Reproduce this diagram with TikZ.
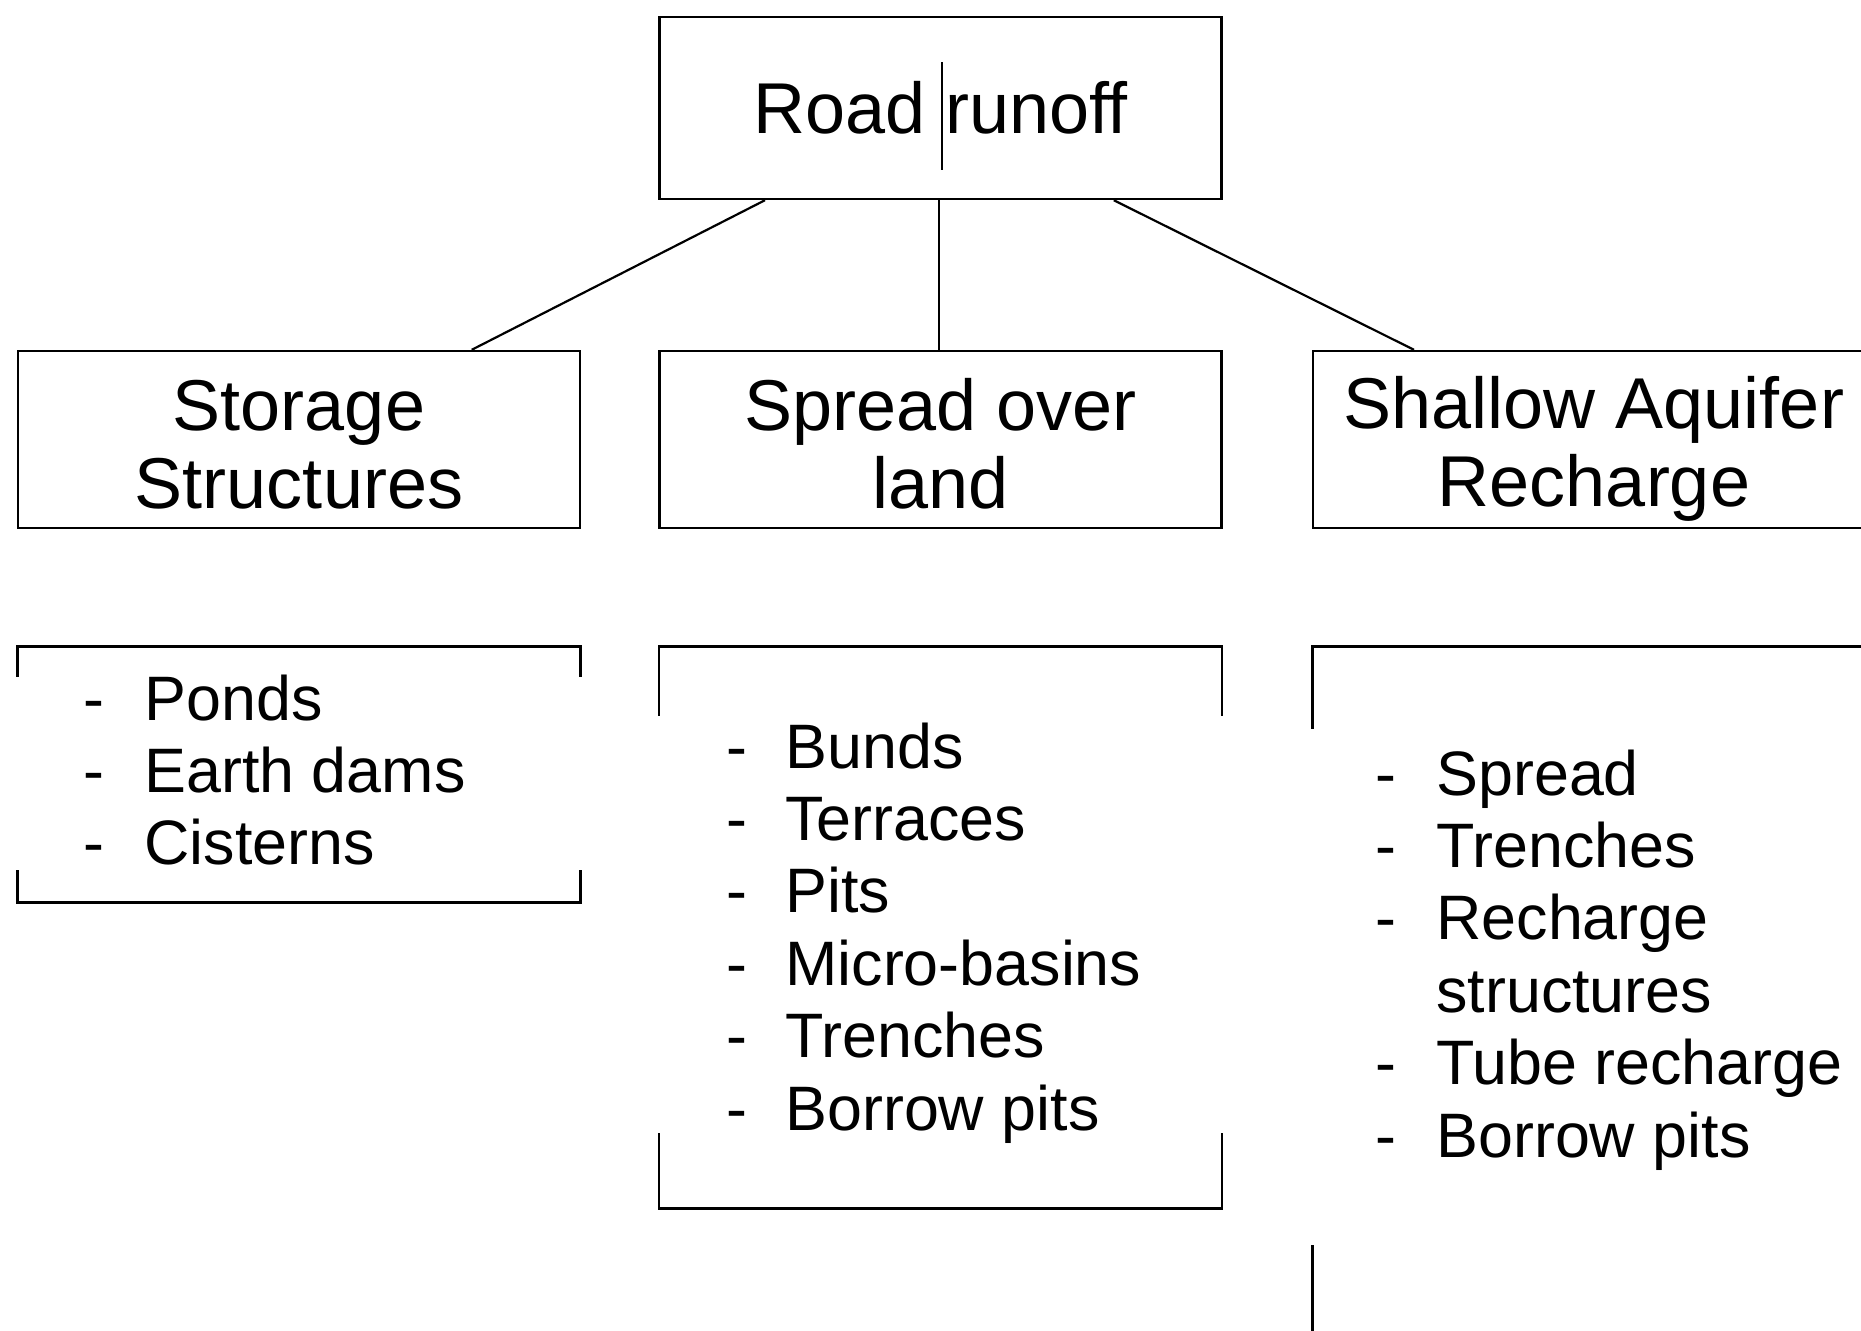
\documentclass[tikz,border=0pt]{standalone}
\usepackage{fontspec}
\setmainfont{Liberation Sans}
\usetikzlibrary{calc}
\newcommand{\topstrut}{\rule{0pt}{35pt}}
\newcommand{\botstrut}{\rule[-5.5pt]{0pt}{5.5pt}}
\begin{document}
\begin{tikzpicture}[x=0.5pt,y=-0.5pt,
  box/.style={draw=black, line width=1.2pt, minimum width=281pt, inner sep=0pt, align=center, font=\fontsize{36}{39}\selectfont},
  frame/.style={draw=none, minimum width=281pt, inner sep=0pt},
  bracket/.style={draw=black, line width=1.2pt},
  conn/.style={draw=black, line width=1.1pt},
  listtext/.style={inner sep=0pt, anchor=base west, font=\fontsize{31.4}{36.2}\selectfont}]
\useasboundingbox (0,0) rectangle (1861,1330);
\clip (0,0) rectangle (1861,1330);
\fill[white] (0,0) rectangle (1861,1330);

% top box
\node[box, minimum height=91pt] (road) at (940.5,108) {Road runoff};
\draw[line width=0.8pt] ($(road.center)+(1.5,-46)$) -- ($(road.center)+(1.5,62)$);

% second row
\node[box, minimum height=88.5pt] (stor) at (299,439.5) {\topstrut Storage\\Structures\botstrut};
\node[box, minimum height=88.5pt] (spread) at (940.5,439.5) {\topstrut Spread over\\land\botstrut};
\node[box, minimum height=88.5pt] (shal) at (1594,439.5) {\topstrut Shallow Aquifer\\Recharge\botstrut};

% connectors
\draw[conn] ($(road.south west)!0.189!(road.south east)$) -- ($(stor.north west)!0.806!(stor.north east)$);
\draw[conn] ($(road.south west)!0.497!(road.south east)$) -- ($(spread.north west)!0.497!(spread.north east)$);
\draw[conn] ($(road.south west)!0.807!(road.south east)$) -- ($(shal.north west)!0.181!(shal.north east)$);

% list frames
\node[frame, minimum height=127.5pt] (l1) at (299,774.5) {};
\node[frame, minimum height=280.5pt] (l2) at (940.5,927.5) {};
\node[frame, minimum height=349pt] (l3) at (1594,996) {};

\draw[bracket] ($(l1.north west)+(0,30)$) -- (l1.north west) -- (l1.north east) -- ($(l1.north east)+(0,30)$);
\draw[bracket] ($(l1.south west)+(0,-32)$) -- (l1.south west) -- (l1.south east) -- ($(l1.south east)+(0,-32)$);

\draw[bracket] ($(l2.north west)+(0,69)$) -- (l2.north west) -- (l2.north east) -- ($(l2.north east)+(0,69)$);
\draw[bracket] ($(l2.south west)+(0,-75)$) -- (l2.south west) -- (l2.south east) -- ($(l2.south east)+(0,-75)$);

\draw[bracket] ($(l3.north west)+(0,82)$) -- (l3.north west) -- (l3.north east);
\draw[bracket] ($(l3.south west)+(0,-100)$) -- (l3.south west) -- (l3.south east);

% list texts
\node[listtext] (t1) at (83,720) {\begin{tabular}[t]{@{}p{30.5pt}@{}l@{}}
- & Ponds\\
- & Earth dams\\
- & Cisterns
\end{tabular}};
\node[listtext] (t2) at (726,768) {\begin{tabular}[t]{@{}p{29.5pt}@{}l@{}}
- & Bunds\\
- & Terraces\\
- & Pits\\
- & Micro-basins\\
- & Trenches\\
- & Borrow pits
\end{tabular}};
\node[listtext] (t3) at (1375,795) {\begin{tabular}[t]{@{}p{30.5pt}@{}l@{}}
- & Spread\\
- & Trenches\\
- & Recharge\\
  & structures\\
- & Tube recharge\\
- & Borrow pits
\end{tabular}};
\end{tikzpicture}
\end{document}
